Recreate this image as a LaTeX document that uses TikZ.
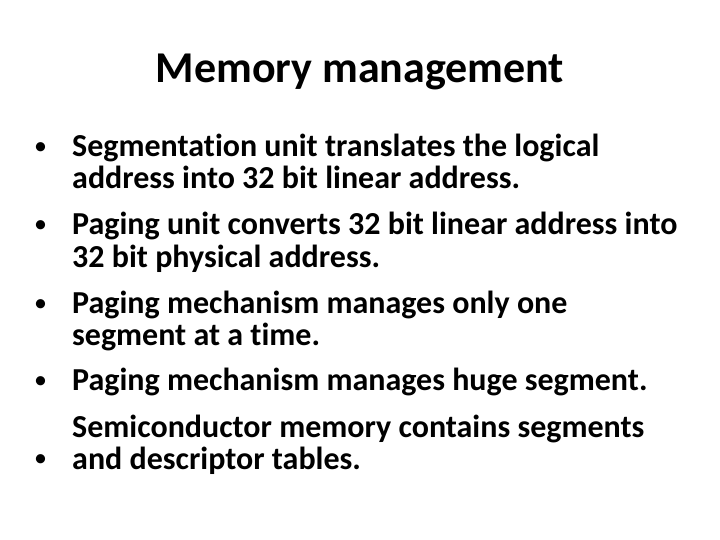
\documentclass[tikz,border=0pt]{standalone}
\usepackage{fontspec}
\setmainfont[Ligatures=CommonOff]{Carlito}
\begin{document}
\begin{tikzpicture}[x=1pt,y=-1pt,
  title/.style={font=\bfseries\fontsize{44}{52}\selectfont,anchor=base},
  body/.style={font=\bfseries\fontsize{32}{36}\selectfont,anchor=base west,inner sep=0pt},
  bul/.style={font=\fontsize{26}{30}\selectfont,anchor=base west,inner sep=0pt}]
\useasboundingbox (0,0) rectangle (720,540);
\node[title] (t) at (360,83) {Memory management};
\foreach \y/\n in {157/1,235/2,313/3,390/4,468/5}{
  \node[bul] (b\n) at (34,\y-2) {•};
}
\node[body] (l1) at (72,157) {Segmentation unit translates the logical};
\node[body] (l2) at (72,189) {address into 32 bit linear address.};
\node[body] (l3) at (72,235) {Paging unit converts 32 bit linear address into};
\node[body] (l4) at (72,267) {32 bit physical address.};
\node[body] (l5) at (72,313) {Paging mechanism manages only one};
\node[body] (l6) at (72,345) {segment at a time.};
\node[body] (l7) at (72,390) {Paging mechanism manages huge segment.};
\node[body] (l8) at (72,437) {Semiconductor memory contains segments};
\node[body] (l9) at (72,469) {and descriptor tables.};
\end{tikzpicture}
\end{document}
